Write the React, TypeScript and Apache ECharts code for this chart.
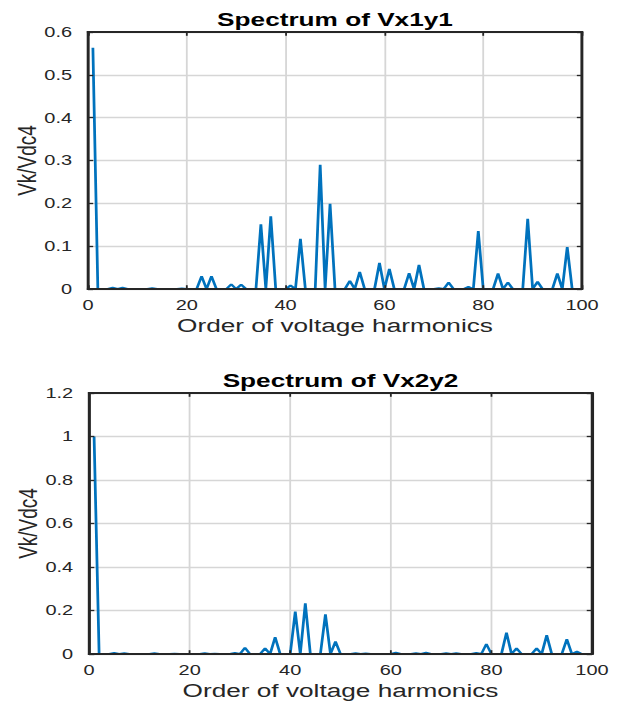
import React, { useEffect, useRef } from "react";
import * as echarts from "echarts";

// Harmonic orders (x values)
const orders = [
  1, 2, 3, 4, 5, 6, 7, 8, 9, 10,
  11, 12, 13, 14, 15, 16, 17, 18, 19, 20,
  21, 22, 23, 24, 25, 26, 27, 28, 29, 30,
  31, 32, 33, 34, 35, 36, 37, 38, 39, 40,
  41, 42, 43, 44, 45, 46, 47, 48, 49, 50,
  51, 52, 53, 54, 55, 56, 57, 58, 59, 60,
  61, 62, 63, 64, 65, 66, 67, 68, 69, 70,
  71, 72, 73, 74, 75, 76, 77, 78, 79, 80,
  81, 82, 83, 84, 85, 86, 87, 88, 89, 90,
  91, 92, 93, 94, 95, 96, 97, 98,
];

// Spectrum of Vx1y1 (Vk/Vdc4)
const vx1y1 = [
  0.563, 0, 0, 0, 0.003, 0, 0.003, 0, 0, 0,
  0, 0, 0.002, 0, 0, 0, 0, 0, 0.001, 0,
  0, 0, 0.03, 0, 0.03, 0, 0, 0, 0.011, 0,
  0.01, 0, 0, 0, 0.151, 0, 0.17, 0, 0, 0,
  0.008, 0, 0.117, 0, 0, 0, 0.29, 0, 0.199, 0,
  0, 0, 0.019, 0, 0.04, 0, 0, 0, 0.061, 0,
  0.047, 0, 0, 0, 0.037, 0, 0.056, 0, 0, 0,
  0.002, 0, 0.015, 0, 0, 0, 0.005, 0, 0.135, 0,
  0, 0, 0.036, 0, 0.015, 0, 0, 0, 0.164, 0,
  0.017, 0, 0, 0, 0.036, 0, 0.098, 0,
];

// Spectrum of Vx2y2 (Vk/Vdc4)
const vx2y2 = [
  1.0, 0, 0, 0, 0.005, 0, 0.003, 0, 0, 0,
  0, 0, 0.003, 0, 0, 0, 0.001, 0, 0, 0,
  0, 0, 0.004, 0, 0.001, 0, 0, 0, 0.005, 0,
  0.029, 0, 0, 0, 0.026, 0, 0.077, 0, 0, 0,
  0.195, 0, 0.233, 0, 0, 0, 0.182, 0, 0.057, 0,
  0, 0, 0.003, 0, 0.002, 0, 0, 0, 0, 0,
  0.006, 0, 0, 0, 0.004, 0, 0.006, 0, 0, 0,
  0.003, 0, 0.003, 0, 0, 0, 0.005, 0, 0.046, 0,
  0, 0, 0.098, 0, 0.026, 0, 0, 0, 0.026, 0,
  0.086, 0, 0, 0, 0.068, 0, 0.011, 0,
];

const titles = ["Spectrum of Vx1y1", "Spectrum of Vx2y2"];
const xLabel = "Order of voltage harmonics";
const yLabel = "Vk/Vdc4";
const xRange = [0, 100];
const xStep = 20;
const yMaxes = [0.6, 1.2];
const ySteps = [0.1, 0.2];

// The reference image is horizontally stretched; draw narrow and stretch.
const W = 449;
const H = 704;
const SX = 619 / W;

const FONT = "'Liberation Sans', Arial, Helvetica, sans-serif";
const AXIS_COLOR = "#262626";
const GRID_COLOR = "#d6d6d6";
const LINE_COLOR = "#0072BD";

const grids = [
  { left: 63.8, top: 32, width: 358.4, height: 257 },
  { left: 64.6, top: 393, width: 364.8, height: 261 },
];

export default function App() {
  const ref = useRef<HTMLDivElement>(null);

  useEffect(() => {
    if (!ref.current) return;
    const chart = echarts.init(ref.current, undefined, { renderer: "svg" });

    const mkLine = () => ({ show: true, onZero: false, lineStyle: { color: AXIS_COLOR, width: 1.8 } });
    const mkTick = () => ({ show: true, inside: true, length: 3.8, lineStyle: { color: AXIS_COLOR, width: 1.3 } });
    const hidden = {
      axisLine: { show: false, onZero: false },
      axisTick: { show: false },
      axisLabel: { show: false },
    };

    const xAxes: any[] = [];
    const yAxes: any[] = [];
    const series: any[] = [];
    const titleList: any[] = [];
    const data = [vx1y1, vx2y2];

    grids.forEach((g, i) => {
      const xb = { gridIndex: i, type: "value", min: xRange[0], max: xRange[1], interval: xStep };
      const yb = { gridIndex: i, type: "value", min: 0, max: yMaxes[i], interval: ySteps[i] };
      const xi = xAxes.length;
      const yi = yAxes.length;
      xAxes.push({
        ...xb,
        z: 4,
        position: "bottom",
        axisLine: mkLine(),
        axisTick: mkTick(),
        splitLine: { show: false },
        axisLabel: { fontSize: 14.5, color: AXIS_COLOR, fontFamily: FONT, margin: 9 },
        name: xLabel,
        nameLocation: "middle",
        nameGap: 27,
        nameMoveOverlap: false,
        nameTextStyle: { fontSize: 19, color: AXIS_COLOR, fontFamily: FONT },
      });
      xAxes.push({
        ...xb,
        z: 4,
        position: "top",
        axisLine: mkLine(),
        axisTick: mkTick(),
        splitLine: { show: false },
        axisLabel: { show: false },
      });
      xAxes.push({
        ...xb,
        ...hidden,
        z: 0,
        position: "bottom",
        splitLine: { show: true, lineStyle: { color: GRID_COLOR, width: 1.3 } },
      });
      yAxes.push({
        ...yb,
        z: 4,
        position: "left",
        axisLine: mkLine(),
        axisTick: mkTick(),
        splitLine: { show: false },
        axisLabel: { fontSize: 14.5, color: AXIS_COLOR, fontFamily: FONT, margin: 11.5 },
        name: yLabel,
        nameLocation: "middle",
        nameRotate: 90,
        nameGap: 35,
        nameMoveOverlap: false,
        nameTextStyle: { fontSize: 19, color: AXIS_COLOR, fontFamily: FONT },
      });
      yAxes.push({
        ...yb,
        z: 4,
        position: "right",
        axisLine: mkLine(),
        axisTick: mkTick(),
        splitLine: { show: false },
        axisLabel: { show: false },
      });
      yAxes.push({
        ...yb,
        ...hidden,
        z: 0,
        position: "left",
        splitLine: { show: true, lineStyle: { color: GRID_COLOR, width: 1.3 } },
      });
      series.push({
        type: "line",
        xAxisIndex: xi,
        yAxisIndex: yi,
        data: orders.map((k, j) => [k, data[i][j]]),
        showSymbol: false,
        symbol: "none",
        lineStyle: { color: LINE_COLOR, width: 2 },
        z: 2,
      });
      titleList.push({
        text: titles[i],
        left: g.left + g.width / 2,
        textAlign: "center",
        top: i === 0 ? 9.5 : 371,
        padding: 0,
        textStyle: { fontSize: 19, fontWeight: "bold", color: "#000", fontFamily: FONT },
      });
    });

    chart.setOption({
      animation: false,
      backgroundColor: "#fff",
      title: titleList,
      grid: grids.map((g) => ({
        ...g,
        containLabel: false,
        outerBoundsMode: "none",
        show: true,
        z: 5,
        backgroundColor: "transparent",
        borderColor: AXIS_COLOR,
        borderWidth: 1.8,
      })),
      xAxis: xAxes,
      yAxis: yAxes,
      series,
    });

    return () => chart.dispose();
  }, []);

  return (
    <div
      style={{
        position: "absolute",
        left: 0,
        top: 0,
        width: W * SX,
        height: H,
        overflow: "hidden",
        background: "#fff",
      }}
    >
      <div
        ref={ref}
        style={{
          width: W,
          height: H,
          transform: `scaleX(${SX})`,
          transformOrigin: "0 0",
        }}
      />
    </div>
  );
}
